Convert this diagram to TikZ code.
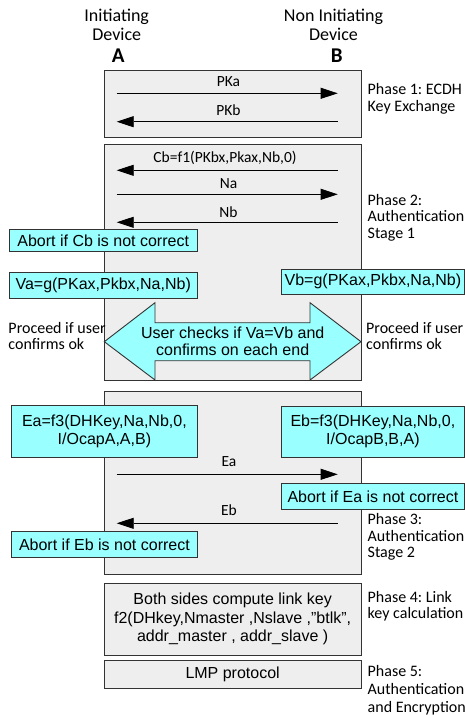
\documentclass[tikz,border=0pt]{standalone}
\usepackage{fontspec}
\setmainfont{Liberation Sans}
\newfontfamily\carl{Carlito}
\usetikzlibrary{arrows.meta}
\definecolor{boxgray}{HTML}{EEEEEE}
\definecolor{edgegray}{HTML}{333333}
\definecolor{lcyan}{HTML}{99FFFF}
\newcommand\boxfont{\fontsize{16}{17.7}\selectfont}
\newcommand\lblfont{\carl\fontsize{15.5}{16.5}\selectfont}
\newcommand\phfont{\carl\fontsize{16}{16.5}\selectfont}
\newcommand\hdfont{\carl\fontsize{18}{18.6}\selectfont}
\frenchspacing
\begin{document}
\frenchspacing
\begin{tikzpicture}[x=1pt,y=-1pt,
  phase/.style={draw=edgegray, fill=boxgray, line width=0.9pt, inner sep=0pt, align=center, font=\boxfont},
  cbox/.style={draw=edgegray, fill=lcyan, line width=0.9pt, inner sep=0pt, align=center, font=\boxfont},
  lbl/.style={inner sep=0pt, font=\lblfont},
  phlbl/.style={inner sep=0pt, anchor=west, align=left, font=\phfont},
  hd/.style={inner sep=0pt, align=center, font=\hdfont},
  dev/.style={inner sep=0pt, font=\carl\fontsize{21}{21}\selectfont\bfseries},
  msg/.style={-{Triangle[length=17pt,width=11pt]}, line width=0.8pt, draw=black},
]
\useasboundingbox (0,0) rectangle (465,715);

% headers
\node[hd] (hA) at (116.7,25) {Initiating\\Device};
\node[hd] (hB) at (333.5,25) {Non Initiating\\Device};
\node[dev] (devA) at (118.3,55.5) {A};
\node[dev] (devB) at (336.7,55.5) {B};

% phase boxes
\node[phase, minimum width=256.7pt, minimum height=66.6pt] (p1) at (232.65,104) {};
\node[phase, minimum width=256.7pt, minimum height=236pt] (p2) at (232.65,262) {};
\node[phase, minimum width=256.7pt, minimum height=182.3pt] (p3) at (232.65,482.85) {};
\node[phase, minimum width=256.7pt, minimum height=71.7pt] (p4) at (232.65,619.15) {Both sides compute link key\\[0.6pt] f2(DHkey,Nmaster ,Nslave ,\symbol{34}btlk\symbol{34},\\[0.6pt] addr\_master , addr\_slave )};
\node[phase, minimum width=256.7pt, minimum height=28.3pt] (p5) at (232.65,674.15) {LMP protocol};

% phase labels
\node[phlbl] (l1) at (367.5,99) {Phase 1: ECDH\\Key Exchange};
\node[phlbl] (l2) at (367.5,217.5) {Phase 2:\\Authentication\\Stage 1};
\node[phlbl] (l3) at (367.5,537) {Phase 3:\\Authentication\\Stage 2};
\node[phlbl] (l4) at (367.5,606) {Phase 4: Link\\key calculation};
\node[phlbl, font=\carl\fontsize{16}{18}\selectfont] (l5) at (367.5,690) {Phase 5:\\Authentication\\and Encryption};

% phase 1 messages
\coordinate (a1) at (116.7,93.3);  \coordinate (b1) at (337.7,93.3);
\coordinate (a2) at (116.7,121.7); \coordinate (b2) at (337.7,121.7);
\draw[msg] (a1) -- (b1);
\draw[msg] (b2) -- (a2);
\node[lbl] (tPKa) at (228.5,81.7) {PKa};
\node[lbl] (tPKb) at (228.5,110) {PKb};

% phase 2 messages
\coordinate (a3) at (116.7,170.3); \coordinate (b3) at (337.7,170.3);
\coordinate (a4) at (116.7,194.3); \coordinate (b4) at (337.7,194.3);
\coordinate (a5) at (116.7,222.3); \coordinate (b5) at (337.7,222.3);
\draw[msg] (b3) -- (a3);
\draw[msg] (a4) -- (b4);
\draw[msg] (b5) -- (a5);
\node[lbl] (tCb) at (225,158.3) {Cb=f1(PKbx,Pkax,Nb,0)};
\node[lbl] (tNa) at (228.5,183.3) {Na};
\node[lbl] (tNb) at (228.5,211.7) {Nb};

\node[cbox, minimum width=187.7pt, minimum height=22.4pt] (abCb) at (103.2,240.5) {Abort if Cb is not correct};
\node[cbox, minimum width=187.7pt, minimum height=26pt] (va) at (103.2,285.7) {Va=g(PKax,Pkbx,Na,Nb)};
\node[cbox, minimum width=182.3pt, minimum height=25pt] (vb) at (372.9,281.5) {Vb=g(PKax,Pkbx,Na,Nb)};

% double arrow
\draw[draw=edgegray, fill=lcyan, line width=0.9pt]
  (104.3,341.7) -- (155,302.7) -- (155,322.7) -- (310,322.7) -- (310,302.7)
  -- (361,341.7) -- (310,380) -- (310,360.7) -- (155,360.7) -- (155,380) -- cycle;
\node[inner sep=0pt, align=center, font=\boxfont] (chk) at (232.7,341.2) {User checks if Va=Vb and\\confirms on each end};
\node[phlbl, font=\carl\fontsize{16}{15.7}\selectfont] (prA) at (8.3,336.2) {Proceed if user\\confirms ok};
\node[phlbl, font=\carl\fontsize{16}{15.7}\selectfont] (prB) at (366,336.2) {Proceed if user\\confirms ok};

% phase 3
\node[cbox, minimum width=186.7pt, minimum height=51.6pt] (ea) at (104.4,431.5) {Ea=f3(DHKey,Na,Nb,0,\\I/OcapA,A,B)};
\node[cbox, minimum width=182.3pt, minimum height=51.3pt] (eb) at (372.9,431.7) {Eb=f3(DHKey,Na,Nb,0,\\I/OcapB,B,A)};
\coordinate (a6) at (116.7,474.3); \coordinate (b6) at (337.7,474.3);
\coordinate (a7) at (116.7,523.3); \coordinate (b7) at (337.7,523.3);
\draw[msg] (a6) -- (b6);
\draw[msg] (b7) -- (a7);
\node[lbl] (tEa) at (229,462) {Ea};
\node[lbl] (tEb) at (229,510.5) {Eb};
\node[cbox, minimum width=182.3pt, minimum height=26pt] (abEa) at (372.9,496.3) {Abort if Ea is not correct};
\node[cbox, minimum width=186.7pt, minimum height=25.6pt] (abEb) at (104.4,544.5) {Abort if Eb is not correct};
\end{tikzpicture}
\end{document}
